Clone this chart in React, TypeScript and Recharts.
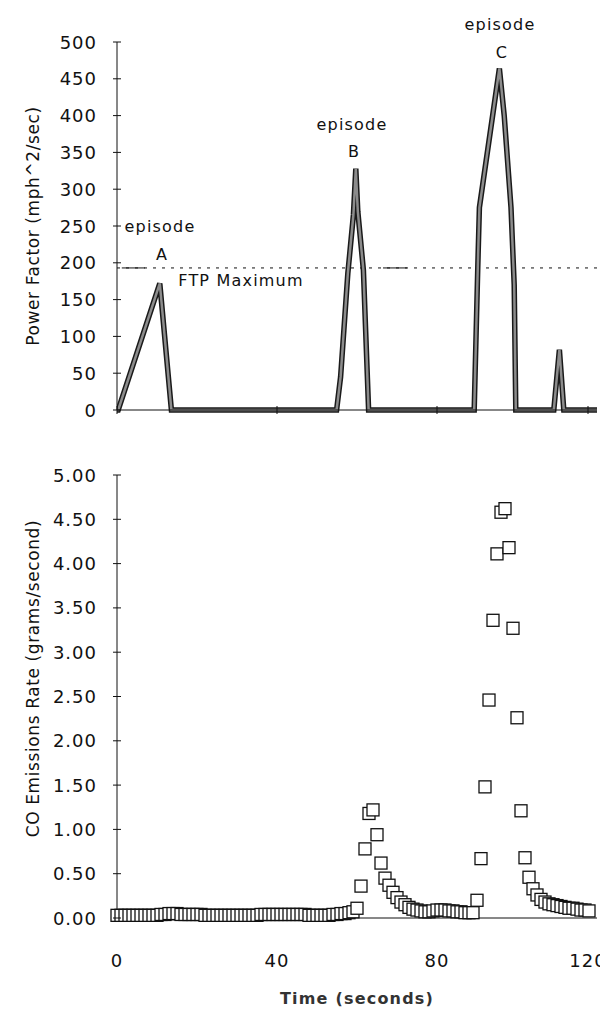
import {
  ComposedChart,
  Line,
  ReferenceDot,
  ReferenceLine,
  Scatter,
  XAxis,
  YAxis
} from "recharts";

// power factor trace (seconds, mph^2/sec)
const powerTime = [0, 0.3, 10.7, 13.6, 54.9, 55.9, 57.7, 59.1, 59.7, 60.2, 61.6, 62.9, 89.3, 90.2, 90.6, 95.6, 96.8, 98.5, 99.3, 99.7, 109.2, 110.6, 111.7, 120];
const powerValue = [0, 0, 172, 0, 0, 45, 185, 265, 328, 270, 190, 0, 0, 195, 275, 464, 400, 275, 170, 0, 0, 82, 0, 0];

const ftpMaximum = 193;

// CO emissions, one sample per second from t = 0
const coRate = [
  0.03, 0.03, 0.03, 0.03, 0.03, 0.03, 0.03, 0.03, 0.03, 0.03,
  0.03, 0.04, 0.04, 0.05, 0.05, 0.05, 0.04, 0.04, 0.04, 0.04,
  0.04, 0.04, 0.03, 0.03, 0.03, 0.03, 0.03, 0.03, 0.03, 0.03,
  0.03, 0.03, 0.03, 0.03, 0.03, 0.03, 0.04, 0.04, 0.04, 0.04,
  0.04, 0.04, 0.04, 0.04, 0.04, 0.04, 0.04, 0.04, 0.03, 0.03,
  0.03, 0.03, 0.03, 0.03, 0.04, 0.04, 0.05, 0.05, 0.06, 0.07,
  0.11, 0.36, 0.78, 1.18, 1.22, 0.94, 0.62, 0.45, 0.37, 0.29,
  0.23, 0.18, 0.15, 0.12, 0.1, 0.09, 0.08, 0.07, 0.07, 0.08,
  0.09, 0.09, 0.09, 0.08, 0.08, 0.07, 0.07, 0.06, 0.06, 0.06,
  0.2, 0.67, 1.48, 2.46, 3.36, 4.11, 4.58, 4.62, 4.18, 3.27,
  2.26, 1.21, 0.68, 0.46, 0.33, 0.26, 0.21, 0.18, 0.16, 0.15,
  0.14, 0.13, 0.12, 0.11, 0.11, 0.1, 0.09, 0.09, 0.08
];

const timeTicks = [0, 40, 80, 120];
const powerTicks = [0, 50, 100, 150, 200, 250, 300, 350, 400, 450, 500];
const coTicks = [0, 0.5, 1, 1.5, 2, 2.5, 3, 3.5, 4, 4.5, 5];

const episodes = [
  { t: 10.75, word: 250, letterV: 212, letter: "A" },
  { t: 58.75, word: 388, letterV: 352, letter: "B" },
  { t: 95.75, word: 524, letterV: 486, letter: "C" }
];

const powerData = powerTime.map((t, i) => ({ t, v: powerValue[i] }));
const coData = coRate.map((v, i) => ({ t: i, v }));

const font = "'DejaVu Sans', sans-serif";
const ink = "#111";

function YTick(props: any) {
  const { x, y, payload, digits } = props;
  const axisX = x + 20;
  return (
    <g>
      <line x1={axisX - 4} x2={axisX + 4} y1={y} y2={y} stroke={ink} />
      <text
        x={x}
        y={y}
        textAnchor="end"
        dominantBaseline="central"
        fill={ink}
        style={{ fontFamily: font, fontSize: 18, letterSpacing: 1 }}
      >
        {payload.value.toFixed(digits)}
      </text>
    </g>
  );
}

function TopXTick(props: any) {
  const { x, y } = props;
  return <line x1={x} x2={x} y1={y - 4} y2={y + 4} stroke={ink} />;
}

function BottomXTick(props: any) {
  const { x, y, payload } = props;
  return (
    <text
      x={x}
      y={y + 12}
      textAnchor="middle"
      dominantBaseline="central"
      fill={ink}
      style={{ fontFamily: font, fontSize: 18, letterSpacing: 1 }}
    >
      {payload.value}
    </text>
  );
}

function SideTitle(text: string, shift: number) {
  return (props: any) => {
    const vb = props.viewBox;
    const cx = 33;
    const cy = vb.y + vb.height / 2 + shift;
    return (
      <text
        x={cx}
        y={cy}
        transform={`rotate(-90, ${cx}, ${cy})`}
        textAnchor="middle"
        dominantBaseline="central"
        fill={ink}
        style={{ fontFamily: font, fontSize: 17, letterSpacing: 0.6 }}
      >
        {text}
      </text>
    );
  };
}

function OpenSquare(props: any) {
  const { cx, cy } = props;
  return <rect x={cx - 6} y={cy - 6} width={12} height={12} fill="#fff" stroke={ink} strokeWidth={1.3} />;
}

const noteStyle = { fontFamily: font, fontSize: 16, letterSpacing: 1.2, fill: ink };

export default function App() {
  return (
    <div style={{ position: "absolute", left: 0, top: 0, width: 600, height: 1009, background: "#fff" }}>
      <ComposedChart width={600} height={450} margin={{ top: 42, right: 3, bottom: 20, left: 0 }}>
        <XAxis
          dataKey="t"
          type="number"
          domain={[0, 120]}
          ticks={timeTicks}
          height={20}
          axisLine={{ stroke: ink }}
          tickLine={false}
          tickSize={0}
          tickMargin={0}
          tick={<TopXTick />}
          allowDataOverflow
        />
        <YAxis
          type="number"
          domain={[0, 500]}
          ticks={powerTicks}
          width={117}
          axisLine={{ stroke: ink }}
          tickLine={false}
          tickSize={0}
          tickMargin={20}
          tick={<YTick digits={0} />}
          label={{ content: SideTitle("Power Factor (mph^2/sec)", 0) }}
        />
        <ReferenceLine y={ftpMaximum} stroke={ink} strokeDasharray="3 6" />
        <ReferenceLine segment={[{ x: 1.2, y: ftpMaximum }, { x: 7, y: ftpMaximum }]} stroke={ink} />
        <ReferenceLine segment={[{ x: 66.5, y: ftpMaximum }, { x: 72.5, y: ftpMaximum }]} stroke={ink} />
        <ReferenceDot
          x={31}
          y={176}
          r={0}
          ifOverflow="visible"
          label={{ value: "FTP Maximum", position: "center", style: noteStyle }}
        />
        {episodes.map((e) => (
          <ReferenceDot
            key={e.letter + "w"}
            x={e.t}
            y={e.word}
            r={0}
            ifOverflow="visible"
            label={{ value: "episode", position: "center", style: noteStyle }}
          />
        ))}
        {episodes.map((e) => (
          <ReferenceDot
            key={e.letter}
            x={e.t + 0.5}
            y={e.letterV}
            r={0}
            ifOverflow="visible"
            label={{ value: e.letter, position: "center", style: noteStyle }}
          />
        ))}
        <Line data={powerData} dataKey="v" type="linear" stroke="#1a1a1a" strokeWidth={5.5} dot={false} isAnimationActive={false} />
        <Line data={powerData} dataKey="v" type="linear" stroke="#8c8c8c" strokeWidth={2.5} dot={false} isAnimationActive={false} />
      </ComposedChart>

      <ComposedChart width={600} height={559} margin={{ top: 25, right: 3, bottom: 0, left: 0 }}>
        <XAxis
          dataKey="t"
          type="number"
          domain={[0, 120]}
          ticks={timeTicks}
          height={91}
          axisLine={{ stroke: ink }}
          tickLine={false}
          tickSize={0}
          tickMargin={30}
          tick={<BottomXTick />}
          label={{
            value: "Time (seconds)",
            position: "insideBottom",
            offset: 5,
            style: { fontFamily: font, fontSize: 16, letterSpacing: 1.2, fill: "#333", fontWeight: 600 }
          }}
        />
        <YAxis
          type="number"
          dataKey="v"
          domain={[0, 5]}
          ticks={coTicks}
          width={117}
          axisLine={{ stroke: ink }}
          tickLine={false}
          tickSize={0}
          tickMargin={20}
          tick={<YTick digits={2} />}
          label={{ content: SideTitle("CO Emissions Rate (grams/second)", -18) }}
        />
        <Scatter data={coData} dataKey="v" shape={<OpenSquare />} isAnimationActive={false} />
      </ComposedChart>
    </div>
  );
}
